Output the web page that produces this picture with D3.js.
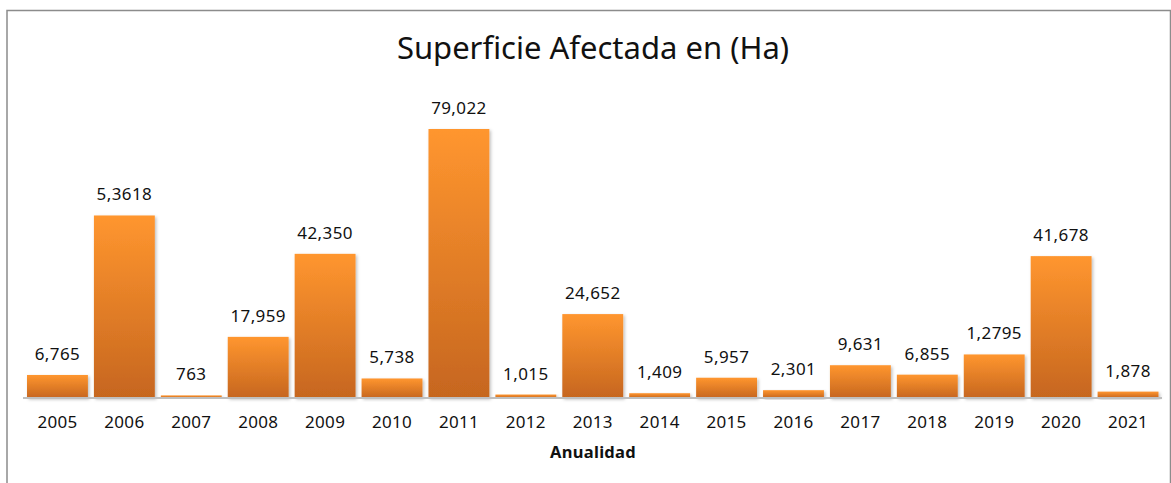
<!DOCTYPE html>
<html>
<head>
<meta charset="utf-8">
<script src="https://cdn.jsdelivr.net/npm/d3@7"></script>
<style>
  body { margin: 0; background: #fff; }
  svg { display: block; font-family: "Noto Sans", "DejaVu Sans", sans-serif; }
</style>
</head>
<body>
<svg id="chart" width="1171" height="483"></svg>
<script>
// datos
var years = ['2005', '2006', '2007', '2008', '2009', '2010', '2011', '2012', '2013',
  '2014', '2015', '2016', '2017', '2018', '2019', '2020', '2021'];
var hectares = [6765, 53618, 763, 17959, 42350, 5738, 79022, 1015, 24652,
  1409, 5957, 2301, 9631, 6855, 12795, 41678, 1878];
// etiquetas tal como aparecen en el gráfico
var valueLabels = ['6,765', '5,3618', '763', '17,959', '42,350', '5,738', '79,022', '1,015', '24,652',
  '1,409', '5,957', '2,301', '9,631', '6,855', '1,2795', '41,678', '1,878'];
var yMax = 90000;

var svg = d3.select('#chart');

// marco
svg.append('path')
  .attr('d', 'M7,483 V10.5 H1170.5 V483')
  .attr('fill', 'none')
  .attr('stroke', '#8c8c8c')
  .attr('stroke-width', 1.5);

// titulo
svg.append('text')
  .attr('x', 593)
  .attr('y', 59)
  .attr('text-anchor', 'middle')
  .style('font-size', '31px')
  .style('fill', '#111')
  .text('Superficie Afectada en (Ha)');

var defs = svg.append('defs');
var grad = defs.append('linearGradient')
  .attr('id', 'barGrad')
  .attr('x1', 0).attr('y1', 0).attr('x2', 0).attr('y2', 1);
grad.append('stop').attr('offset', '0%').attr('stop-color', '#ff962f');
grad.append('stop').attr('offset', '100%').attr('stop-color', '#c6661f');

var shadow = defs.append('filter').attr('id', 'shadow')
  .attr('x', '-10%').attr('y', '-10%').attr('width', '130%').attr('height', '130%');
shadow.append('feDropShadow')
  .attr('dx', 1.5).attr('dy', 1.5).attr('stdDeviation', 1.5)
  .attr('flood-color', '#000').attr('flood-opacity', 0.25);

var x = d3.scaleBand()
  .domain(years)
  .range([24, 1161.5])
  .paddingInner(0.09)
  .paddingOuter(0.045);

var y = d3.scaleLinear()
  .domain([0, yMax])
  .range([398, 398 - yMax * 269 / 79022]);

// barras
svg.append('g')
  .selectAll('rect')
  .data(hectares)
  .enter()
  .append('rect')
  .attr('x', function(d, i) { return x(years[i]); })
  .attr('y', function(d) { return y(d); })
  .attr('width', x.bandwidth())
  .attr('height', function(d) { return y(0) - y(d); })
  .attr('fill', 'url(#barGrad)')
  .attr('filter', 'url(#shadow)');

// etiquetas de valor
svg.append('g')
  .selectAll('text')
  .data(hectares)
  .enter()
  .append('text')
  .attr('x', function(d, i) { return x(years[i]) + x.bandwidth() / 2; })
  .attr('y', function(d) { return y(d) - 15; })
  .attr('text-anchor', 'middle')
  .style('font-size', '17px')
  .style('letter-spacing', '0.4px')
  .style('fill', '#111')
  .text(function(d, i) { return valueLabels[i]; });

// eje x
var xAxis = d3.axisBottom(x).tickSize(0).tickPadding(18);
var gx = svg.append('g')
  .attr('transform', 'translate(0,' + y(0) + ')')
  .call(xAxis);
gx.select('.domain').attr('stroke', '#bfbfbf').attr('stroke-width', 2)
  .attr('d', 'M23,0H1162');
gx.selectAll('text')
  .style('font-size', '17px')
  .style('letter-spacing', '0.3px')
  .style('fill', '#111')
  .style('font-family', '"Noto Sans", "DejaVu Sans", sans-serif');

svg.append('text')
  .attr('x', 593)
  .attr('y', 458)
  .attr('text-anchor', 'middle')
  .style('font-size', '16.5px')
  .style('font-weight', 'bold')
  .style('letter-spacing', '0.3px')
  .style('fill', '#111')
  .text('Anualidad');
</script>
</body>
</html>
